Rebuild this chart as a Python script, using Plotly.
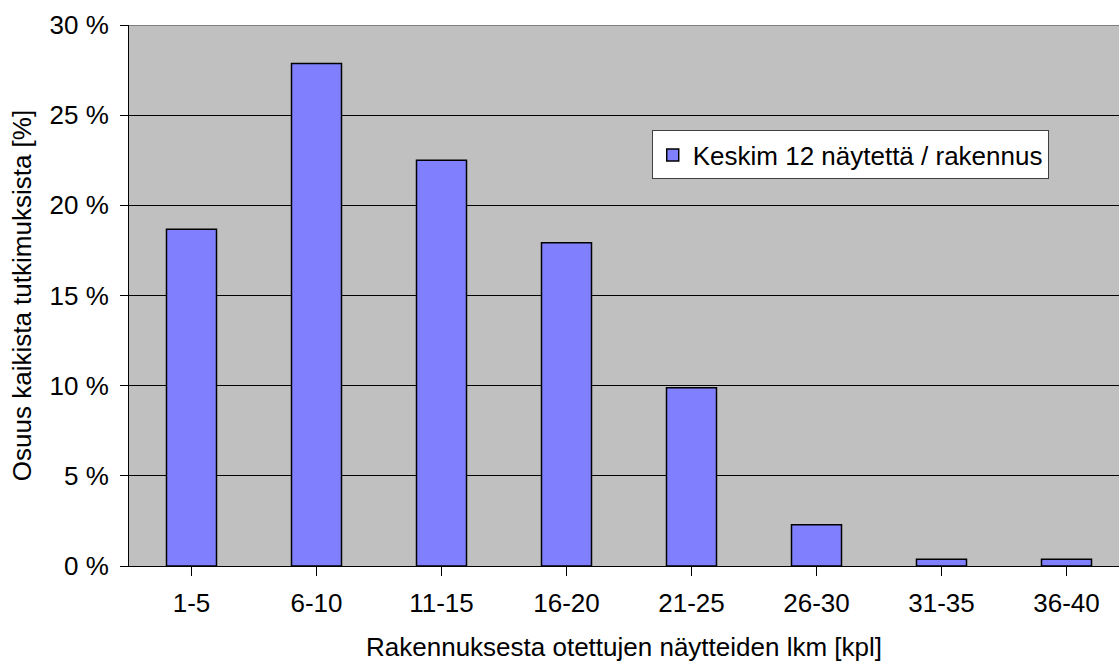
import plotly.graph_objects as go

# Share of all surveys by number of samples taken per building
categories = ["1-5", "6-10", "11-15", "16-20", "21-25", "26-30", "31-35", "36-40"]
share_pct = [18.68, 27.86, 22.5, 17.93, 9.89, 2.29, 0.37, 0.37]
series_name = "Keskim 12 näytettä / rakennus"
y_ticks = [0, 5, 10, 15, 20, 25, 30]
y_tick_text = [f"{v} %" for v in y_ticks]

FONT = dict(family="Liberation Sans, Arial, sans-serif", size=26, color="black")

fig = go.Figure(
    go.Bar(
        x=list(range(len(categories))),
        y=share_pct,
        name=series_name,
        width=0.4,
        marker=dict(color="#8080FF", line=dict(color="black", width=1.5)),
        showlegend=True,
        hoverinfo="skip",
    )
)

fig.update_layout(
    width=1119,
    height=662,
    margin=dict(l=129, r=0, t=25, b=96),
    paper_bgcolor="white",
    plot_bgcolor="#C0C0C0",
    font=FONT,
    bargap=0.6,
    legend=dict(
        x=0.528,
        y=0.805,
        xanchor="left",
        yanchor="top",
        bgcolor="white",
        bordercolor="#404040",
        borderwidth=1,
        font=FONT,
        itemclick=False,
        itemdoubleclick=False,
    ),
    xaxis=dict(
        range=[-0.5, 7.42],
        tickmode="array",
        tickvals=list(range(len(categories))),
        ticktext=categories,
        tickson="boundaries",
        ticks="outside",
        ticklen=9,
        tickcolor="black",
        showline=True,
        linecolor="black",
        linewidth=1,
        showgrid=False,
        zeroline=False,
        ticklabelstandoff=5,
        title=dict(text="Rakennuksesta otettujen näytteiden lkm [kpl]", font=FONT, standoff=24),
        fixedrange=True,
    ),
    yaxis=dict(
        range=[0, 30],
        tickmode="array",
        tickvals=y_ticks,
        ticktext=y_tick_text,
        ticks="outside",
        ticklen=8,
        tickcolor="black",
        showline=True,
        linecolor="black",
        linewidth=1,
        showgrid=True,
        gridcolor="black",
        gridwidth=1,
        zeroline=False,
        ticklabelstandoff=6,
        title=dict(text="Osuus kaikista tutkimuksista [%]", font=FONT, standoff=10),
        fixedrange=True,
    ),
)

# grey frame line along the top of the plot area
fig.add_shape(
    type="line", xref="paper", yref="y", x0=0, x1=1, y0=30, y1=30,
    line=dict(color="#808080", width=2), layer="above",
)

fig.write_html("out.html")
